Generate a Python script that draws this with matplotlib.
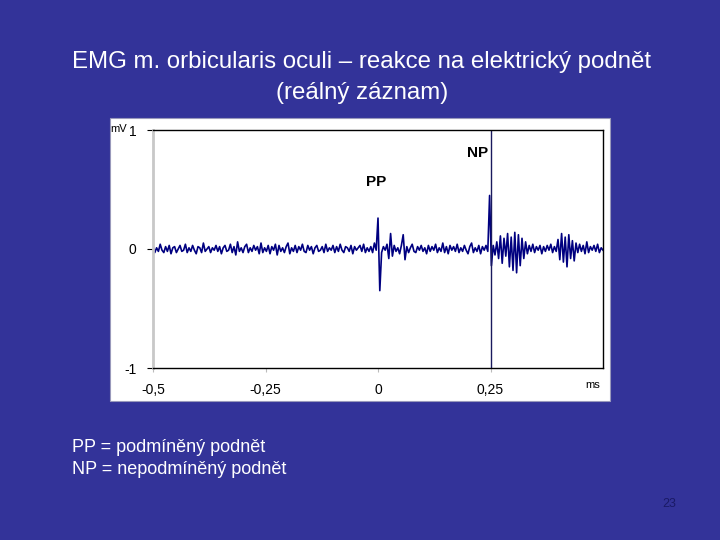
import numpy as np
import matplotlib.pyplot as plt
from matplotlib.patches import Rectangle

plt.rcParams['font.family'] = ['Liberation Sans', 'DejaVu Sans']

# EMG trace, sampled every 0.004 ms from -0.5 to 0.5 ms, values in 1/100 mV
t_start = -0.5
t_step = 0.004
emg_pre = [2, -3, 1, -2, 4, -1, -3, 2, -2, 3, -4, 1, 2, -3, 0, 3, -2, -1, 4, -3,
           1, -2, 3, -1, -4, 2, 1, -3, 5, -2, 0, 2, -3, 1, -1, 3, -2, 2, -4, 1,
           3, -2, -1, 4, -3, 2, -5, 6, -2, 1, -3, 2, 4, -3, 1, -2, 3, -1, 2, -4,
           5, -3, 1, -2, 3, -4, 2, -1, 4, -5, 3, -2, 1, -3, 2, 5, -4, 1, -2, 3,
           -3, 2, -1, 4, -2, -3, 3, -1, 2, -4, 1, 3, -2, -1, 2, -3, 4, -2, 1, -1,
           3, -3, 2, -2, 4, -1, -3, 2, 1, -2, 3, -4, 2, -1, 1, 3, -2, 4, -3, 1,
           -2, 2, -3, 5, -1]
emg_pp = [26, -35]
emg_mid = [-3, 2, -1, 4, -8, 13, -6, 3, -2, 1, -4, 3, 12, -9, 2, -3, 1, 4, -2, -3,
           2, -1, 3, -2, 1, -4, 3, -2, 2, -1, 4, -3, 1, -2, 5, -3, 2, -4, 3, -1,
           2, -2, 4, -3, 1, -2, 3, -1, -4, 2, 5, -3, 1, -2, 3, -4, 2, -1, 3, -2]
emg_np = [45, -14]
emg_post = [3, -5, 6, -8, 11, -12, 9, -6, 13, -15, 10, -18, 14, -20, 12, -14, 9, -8, 6, -4,
            3, -2, 4, -3, 2, -1, 3, -4, 2, -2, 3, -1, 4, -3, 2, -2,
            8, -9, 13, -11, 10, -15, 12, -8, 7, -10, 5,
            -3, 4, -2, 3, -4, 6, -3, 2, -1, 3, -2, 4, -3, 1, -1]

stim_np = 0.25
labels = {'PP': (-0.027, 0.56), 'NP': (0.244, 0.81)}
xticks = [-0.5, -0.25, 0, 0.25]
xticklabels = ['-0,5', '-0,25', '0', '0,25']
yticks = [-1, 0, 1]

emg = np.array(emg_pre + emg_pp + emg_mid + emg_np + emg_post) / 100.0
t = t_start + t_step * np.arange(len(emg))

bg = '#333399'
fig = plt.figure(figsize=(7.2, 5.4), dpi=100, facecolor=bg)

# white chart panel, behind the axes
fig.patches.append(Rectangle((110 / 720, 1 - 401 / 540), 500 / 720, 283 / 540,
                             transform=fig.transFigure, facecolor='white',
                             edgecolor='#9999bb', lw=0.8, zorder=-5))

ax = fig.add_axes([153 / 720, 1 - 368 / 540, 450 / 720, 238 / 540])
ax.set_facecolor('white')
ax.plot(t, emg, color='#000080', lw=1.2)
ax.axvline(stim_np, color='#1a1a5e', lw=1.0)

ax.set_xlim(-0.5, 0.5)
ax.set_ylim(-1, 1)
ax.set_xticks(xticks)
ax.set_xticklabels(xticklabels)
ax.set_yticks(yticks)
ax.set_yticklabels(['-1', '0', '1'])
ax.tick_params(axis='x', length=3, color='#bbbbbb', labelsize=10, pad=8)
ax.tick_params(axis='y', length=4, color='black', labelsize=10, pad=8)

for s in ['top', 'right', 'bottom']:
    ax.spines[s].set_color('black')
    ax.spines[s].set_linewidth(1.0)
ax.spines['left'].set_color('#c8c8c8')
ax.spines['left'].set_linewidth(2.0)

for name, (lx, ly) in labels.items():
    ax.text(lx, ly, name, ha='left' if name == 'PP' else 'right', va='center',
            fontsize=11, fontweight='bold', color='black')

fig.text(110 / 720, 1 - 129 / 540, 'mV', fontsize=8, color='black', va='center')
fig.text(585 / 720, 1 - 385 / 540, 'ms', fontsize=8, color='black', va='center')

fig.text(362 / 720, 1 - 62 / 540, 'EMG m. orbicularis oculi \u2013 reakce na elektrický podnět',
         ha='center', va='center', fontsize=17.3, color='white')
fig.text(362 / 720, 1 - 93 / 540, '(reálný záznam)',
         ha='center', va='center', fontsize=17.3, color='white')

fig.text(72 / 720, 1 - 447 / 540, 'PP = podmíněný podnět', fontsize=13,
         color='white', va='center')
fig.text(72 / 720, 1 - 470 / 540, 'NP = nepodmíněný podnět', fontsize=13,
         color='white', va='center')
fig.text(669 / 720, 1 - 504 / 540, '23', fontsize=9, color='#1a1a66',
         ha='center', va='center')

fig.savefig('out.png', dpi=100, facecolor=bg)
